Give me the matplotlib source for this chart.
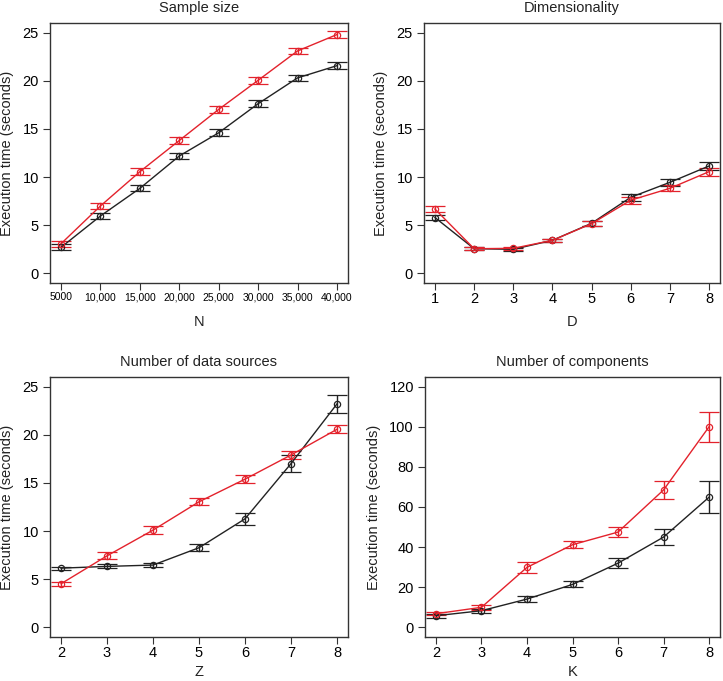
import matplotlib
matplotlib.use('Agg')
import matplotlib.pyplot as plt
import numpy as np

plt.rcParams['font.family'] = ['Liberation Sans', 'DejaVu Sans']

RED = '#e3222c'
BLK = '#222222'

# sample size
n_x = [5000, 10000, 15000, 20000, 25000, 30000, 35000, 40000]
n_labels = ['5000', '10,000', '15,000', '20,000', '25,000', '30,000', '35,000', '40,000']
n_black = [2.7, 5.96, 8.83, 12.19, 14.6, 17.62, 20.3, 21.57]
n_black_err = [0.3, 0.3, 0.3, 0.35, 0.35, 0.35, 0.35, 0.35]
n_red = [3.08, 7.0, 10.56, 13.8, 17.03, 20.05, 23.1, 24.8]
n_red_err = [0.3, 0.35, 0.38, 0.4, 0.38, 0.38, 0.35, 0.4]

# dimensionality
d_x = [1, 2, 3, 4, 5, 6, 7, 8]
d_black = [5.8, 2.56, 2.5, 3.43, 5.2, 7.9, 9.45, 11.15]
d_black_err = [0.25, 0.15, 0.15, 0.15, 0.25, 0.35, 0.35, 0.4]
d_red = [6.68, 2.56, 2.6, 3.43, 5.16, 7.6, 8.83, 10.56]
d_red_err = [0.35, 0.15, 0.15, 0.15, 0.25, 0.35, 0.3, 0.4]

# number of data sources
z_x = [2, 3, 4, 5, 6, 7, 8]
z_black = [6.15, 6.33, 6.47, 8.27, 11.27, 17.0, 23.2]
z_black_err = [0.15, 0.2, 0.2, 0.35, 0.62, 0.9, 0.93]
z_red = [4.53, 7.43, 10.1, 13.04, 15.39, 17.9, 20.57]
z_red_err = [0.2, 0.35, 0.38, 0.35, 0.4, 0.38, 0.4]

# number of components
k_x = [2, 3, 4, 5, 6, 7, 8]
k_black = [5.8, 8.3, 14.1, 21.4, 32.0, 45.0, 64.9]
k_black_err = [1.0, 1.0, 1.3, 1.5, 2.6, 4.0, 7.9]
k_red = [6.8, 10.0, 29.9, 41.2, 47.5, 68.5, 100.0]
k_red_err = [0.8, 1.3, 2.6, 1.7, 2.7, 4.5, 7.4]

W, H = 723, 681
fig = plt.figure(figsize=(W / 100, H / 100), dpi=100)


def make_ax(x0, y0, x1, y1):
    return fig.add_axes([x0 / W, 1 - y1 / H, (x1 - x0) / W, (y1 - y0) / H])


def panel(ax, x, blk, blk_e, red, red_e, title, xlabel, yticks, xticklabels=None, xfs=10.5, lab_off=35):
    for y, e, c in [(blk, blk_e, BLK), (red, red_e, RED)]:
        ax.errorbar(x, y, yerr=e, color=c, lw=1, elinewidth=1, capsize=7, capthick=1,
                    marker='o', ms=4.5, mfc='none', mec=c, mew=0.9)
    r = x[-1] - x[0]
    ax.set_xlim(x[0] - 0.04 * r, x[-1] + 0.04 * r)
    yr = yticks[-1] - yticks[0]
    ax.set_ylim(yticks[0] - 0.04 * yr, yticks[-1] + 0.04 * yr)
    ax.set_xticks(x)
    if xticklabels is not None:
        ax.set_xticklabels(xticklabels)
    ax.set_yticks(yticks)
    ax.tick_params(axis='x', labelsize=xfs, length=5, color='#333333', pad=1.5)
    ax.tick_params(axis='y', labelsize=10.5, length=5, color='#333333', pad=3)
    for s in ax.spines.values():
        s.set_color('#333333')
        s.set_linewidth(1)
    ax.set_title(title, fontsize=10.5, pad=8, color='#222222')
    ax.set_xlabel(xlabel, fontsize=10.5, color='#222222')
    # x label centre placed a fixed number of pixels below the axis
    ax.xaxis.set_label_coords(0.5, -lab_off / 260, transform=ax.transAxes)
    ax.xaxis.label.set_va('center')
    ax.set_ylabel('Execution time (seconds)', fontsize=10.5, labelpad=6, color='#222222')


ax1 = make_ax(50, 23, 348, 283)
panel(ax1, n_x, n_black, n_black_err, n_red, n_red_err, 'Sample size', 'N',
      [0, 5, 10, 15, 20, 25], n_labels, xfs=7.5, lab_off=39)

ax2 = make_ax(424, 23, 720, 283)
panel(ax2, d_x, d_black, d_black_err, d_red, d_red_err, 'Dimensionality', 'D',
      [0, 5, 10, 15, 20, 25], lab_off=39)

ax3 = make_ax(50, 377, 348, 637)
panel(ax3, z_x, z_black, z_black_err, z_red, z_red_err, 'Number of data sources', 'Z',
      [0, 5, 10, 15, 20, 25])

ax4 = make_ax(425, 377, 720, 637)
panel(ax4, k_x, k_black, k_black_err, k_red, k_red_err, 'Number of components', 'K',
      [0, 20, 40, 60, 80, 100, 120])

fig.savefig('out.png', dpi=100)
